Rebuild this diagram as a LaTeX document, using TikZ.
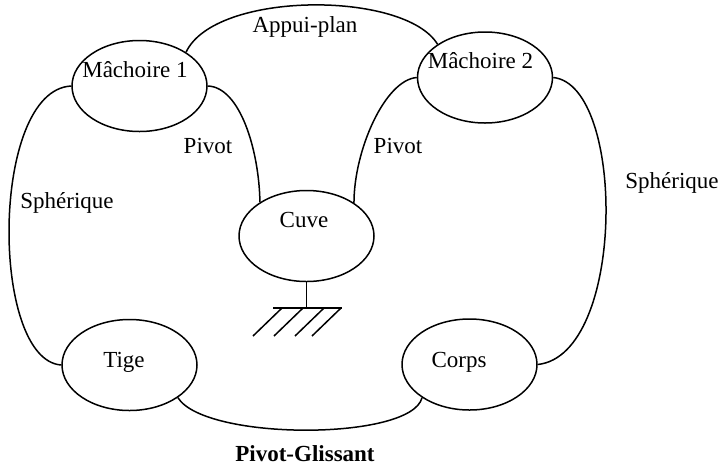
\documentclass[tikz,border=0pt]{standalone}
\usepackage{fontspec}
\setmainfont{Liberation Serif}
\usetikzlibrary{shapes.geometric}
\begin{document}
\begin{tikzpicture}[x=1pt,y=-1pt,
  part/.style={draw,ellipse,line width=1.5pt,minimum width=135pt,minimum height=91pt,inner sep=0pt},
  link/.style={draw,line width=1.5pt},
  lbl/.style={anchor=base,inner sep=0pt,font=\fontsize{23}{27}\selectfont}]
\useasboundingbox (0,0) rectangle (719,467);
% parts
\node[part] (m1) at (139.5,86) {};
\node[part] (m2) at (485,77.5) {};
\node[part] (cuve) at (306.5,236) {};
\node[part] (tige) at (129.5,365) {};
\node[part] (corps) at (469.5,364.5) {};
% part names
\node[lbl] (tm1) at (135,77) {Mâchoire 1};
\node[lbl] (tm2) at (480.5,68) {Mâchoire 2};
\node[lbl] (tcuve) at (304,227) {Cuve};
\node[lbl] (ttige) at (124,367) {Tige};
\node[lbl] (tcorps) at (459,367) {Corps};
% joints
\draw[link] (m1.36.8) .. controls (215,-9.5) and (405,-9.5) .. (m2.145.9);
\draw[link] (m1.0) .. controls (240,87) and (259,150) .. (cuve.144.4);
\draw[link] (m2.180) .. controls (385,80) and (354,150) .. (cuve.35.6);
\draw[link] (m1.180) .. controls (-10,90) and (-10,360) .. (tige.180);
\draw[link] (m2.0) .. controls (626,85) and (626,355) .. (corps.0);
\draw[link] (tige.-34.2) .. controls (205,441) and (411,441) .. (corps.215.8);
% joint names
\node[lbl] (lap) at (305,32) {Appui-plan};
\node[lbl] (lpl) at (208,153) {Pivot};
\node[lbl] (lpr) at (398,153) {Pivot};
\node[lbl] (lsl) at (67,208) {Sphérique};
\node[lbl] (lsr) at (672,188) {Sphérique};
\node[lbl] (lpg) at (305,461) {\bfseries Pivot-Glissant};
% ground
\coordinate (g) at (306.5,308);
\coordinate (gl) at (273,308);
\coordinate (gr) at (342,308);
\draw[link] (cuve.south) -- (g);
\draw[link] (gl) -- (gr);
\foreach \t/\n in {282/1,303/2,324/3,341/4}{
  \coordinate (h\n a) at (\t,308);
  \coordinate (h\n b) at (\t-29,336);
  \draw[link] (h\n a) -- (h\n b);
}
\end{tikzpicture}
\end{document}
